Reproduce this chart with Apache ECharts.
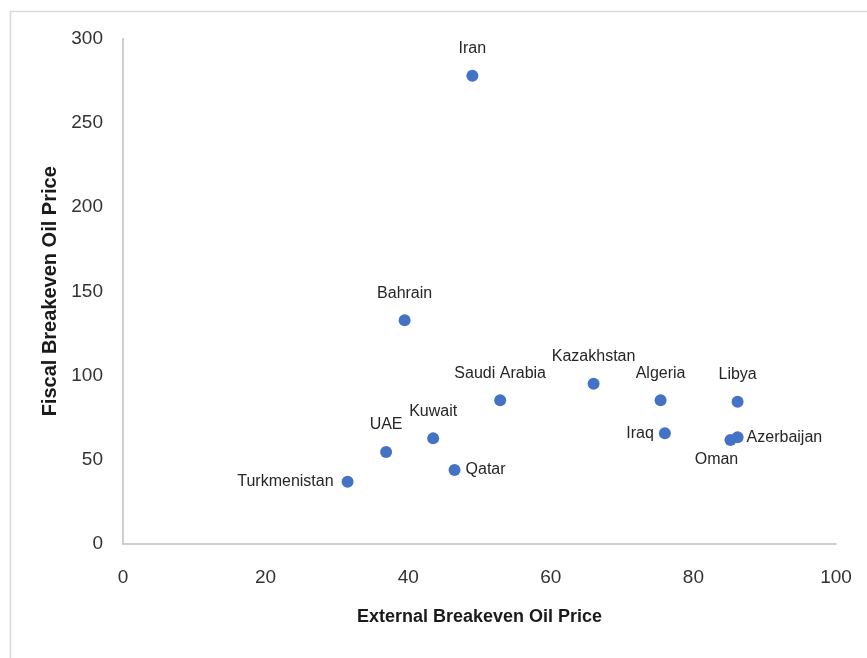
<!DOCTYPE html>
<html>
<head>
<meta charset="utf-8">
<script src="https://cdn.jsdelivr.net/npm/echarts@6/dist/echarts.min.js"></script>
<style>
html,body{margin:0;padding:0;background:#fff;}
#chart{width:867px;height:658px;}
</style>
</head>
<body>
<div id="chart"></div>
<script>
// Data
const countries = ["Iran","Bahrain","Saudi Arabia","Kazakhstan","Algeria","Libya","Kuwait","UAE","Qatar","Turkmenistan","Iraq","Oman","Azerbaijan"];
const externalBreakeven = [49.0, 39.5, 52.9, 66.0, 75.4, 86.2, 43.5, 36.9, 46.5, 31.5, 76.0, 85.2, 86.2];
const fiscalBreakeven = [277.9, 132.8, 85.3, 95.1, 85.3, 84.5, 62.7, 54.6, 43.9, 37.0, 65.7, 61.7, 63.3];
const xTicks = [0, 20, 40, 60, 80, 100];
const yTicks = [0, 50, 100, 150, 200, 250, 300];

// label placement (style only)
const labelPlacement = {
  "Qatar": {position: "right", distance: 5},
  "Azerbaijan": {position: "right", distance: 3},
  "Turkmenistan": {position: "left", distance: 8},
  "Iraq": {position: "left", distance: 5},
  "Oman": {position: "bottom", distance: 6, offset: [-14, 0]}
};

const FONT = "Liberation Sans";
const points = countries.map((c, i) => {
  const p = labelPlacement[c] || {position: "top", distance: 13};
  return {
    name: c,
    value: [externalBreakeven[i], fiscalBreakeven[i]],
    label: Object.assign({show: true}, p)
  };
});

const chart = echarts.init(document.getElementById('chart'), null, {renderer: 'canvas'});
chart.setOption({
  animation: false,
  backgroundColor: '#ffffff',
  graphic: [{
    type: 'rect', z: -1,
    shape: {x: 10.5, y: 11.5, width: 900, height: 700},
    style: {fill: 'none', stroke: '#d9d9d9', lineWidth: 1.5}
  }],
  grid: {left: 123, right: 31, top: 38.6, bottom: 114, containLabel: false},
  xAxis: {
    type: 'value', min: xTicks[0], max: xTicks[xTicks.length - 1], interval: 20,
    name: 'External Breakeven Oil Price', nameLocation: 'middle', nameGap: 64,
    nameTextStyle: {fontFamily: FONT, fontWeight: 'bold', fontSize: 18, color: '#1a1a1a'},
    axisLine: {show: true, lineStyle: {color: '#bfbfbf', width: 1.5}},
    axisTick: {show: false},
    splitLine: {show: false},
    axisLabel: {fontFamily: FONT, fontSize: 19, color: '#333333', margin: 24}
  },
  yAxis: {
    type: 'value', min: yTicks[0], max: yTicks[yTicks.length - 1], interval: 50,
    name: 'Fiscal Breakeven Oil Price', nameLocation: 'middle', nameGap: 62,
    nameTextStyle: {fontFamily: FONT, fontWeight: 'bold', fontSize: 20, color: '#1a1a1a'},
    axisLine: {show: true, lineStyle: {color: '#bfbfbf', width: 1.5}},
    axisTick: {show: false},
    splitLine: {show: false},
    axisLabel: {fontFamily: FONT, fontSize: 19, color: '#333333', margin: 20}
  },
  series: [{
    type: 'scatter',
    symbol: 'circle',
    symbolSize: 12,
    itemStyle: {color: '#4472c4', opacity: 1},
    label: {
      formatter: '{b}',
      fontFamily: FONT, fontSize: 16, color: '#262626'
    },
    data: points
  }]
});
</script>
</body>
</html>
